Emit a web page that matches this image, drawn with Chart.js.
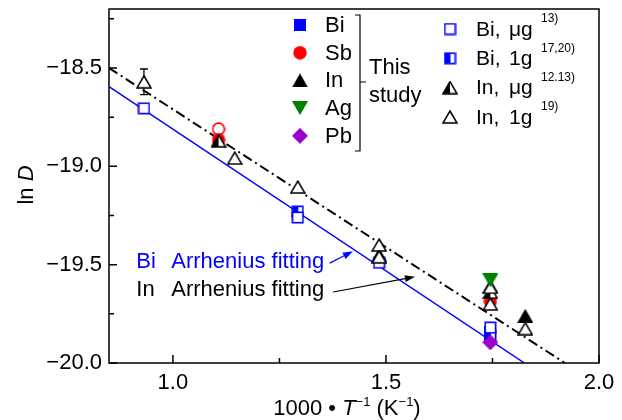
<!DOCTYPE html>
<html>
<head>
<meta charset="utf-8">
<script src="https://cdn.jsdelivr.net/npm/chart.js@4.4.1/dist/chart.umd.min.js"></script>
<style>
html, body { margin: 0; padding: 0; background: #fff; }
</style>
</head>
<body>
<canvas id="chart" width="622" height="420"></canvas>
<script>
// Axis ticks
const xTicks = [1.0, 1.5, 2.0];
const xMinorTicks = [1.25, 1.75];
const yTicks = [-20.0, -19.5, -19.0, -18.5];
const yMinorTicks = [-19.75, -19.25, -18.75, -18.25];

// This study
const biX = [1.745, 1.745];
const biY = [-19.84, -19.87];
const sbX = [1.107, 1.107, 1.745];
const sbY = [-18.81, -18.865, -19.685];
const sbFill = ['#ffffff', '#ff0000', '#ff0000'];
const inX = [1.484, 1.745, 1.827];
const inY = [-19.45, -19.61, -19.76];
const agX = [1.745];
const agY = [-19.58];
const pbX = [1.745];
const pbY = [-19.895];

// Literature values
const biUgX = [0.932, 1.293, 1.484, 1.745];
const biUgY = [-18.705, -19.26, -19.49, -19.82];
const bi1gX = [1.293, 1.745];
const bi1gY = [-19.23, -19.86];
const inUgX = [1.107, 1.745];
const inUgY = [-18.87, -19.64];
const in1gX = [0.932, 1.145, 1.293, 1.484, 1.484, 1.745, 1.745, 1.827];
const in1gY = [-18.57, -18.958, -19.105, -19.40, -19.46, -19.615, -19.70, -19.825];
const in1gErr = [0.065, 0, 0, 0, 0, 0, 0, 0];

// Arrhenius fits (end points)
const biFitX = [0.85, 1.825];
const biFitY = [-18.595, -20.0];
const inFitX = [0.85, 1.92];
const inFitY = [-18.5, -20.0];

// Fit labels and their arrows
const fitNames = ['Bi', 'In'];
const fitText = 'Arrhenius fitting';
const fitLabelX = [0.914, 0.914];
const fitLabelY = [-19.488, -19.631];
const arrowFromX = [1.368, 1.376];
const arrowFromY = [-19.492, -19.639];
const arrowToX = [1.4225, 1.568];
const arrowToY = [-19.432, -19.562];

const FONT = '"Liberation Sans", Arial, sans-serif';
const BLUE = '#0000ff', RED = '#ff0000', GREEN = '#008000', PURPLE = '#9900cc';

function mk(w, h, draw) {
    const c = document.createElement('canvas');
    c.width = w; c.height = h;
    draw(c.getContext('2d'), w, h);
    return c;
}
function poly(g, pts) {
    g.beginPath();
    g.moveTo(pts[0][0], pts[0][1]);
    for (let i = 1; i < pts.length; i++) g.lineTo(pts[i][0], pts[i][1]);
    g.closePath();
}

const TRI = [[8, 1], [15, 13], [1, 13]];

// marker images
const M = {
    sqFill: mk(12, 12, g => { g.fillStyle = BLUE; g.fillRect(0, 0, 12, 12); }),
    sqOpen: mk(13, 13, g => {
        g.fillStyle = '#fff'; g.fillRect(1, 1, 11, 11);
        g.strokeStyle = BLUE; g.lineWidth = 1.6; g.strokeRect(1.3, 1.3, 10.4, 10.4);
    }),
    sqHalf: mk(13, 13, g => {
        g.fillStyle = '#fff'; g.fillRect(1, 1, 11, 11);
        g.fillStyle = BLUE; g.fillRect(1, 1, 6, 11);
        g.strokeStyle = BLUE; g.lineWidth = 1.6; g.strokeRect(1.3, 1.3, 10.4, 10.4);
    }),
    circle: mk(14, 14, g => {
        g.fillStyle = RED; g.beginPath(); g.arc(7, 7, 6.7, 0, Math.PI * 2); g.fill();
    }),
    triFill: mk(16, 14, g => {
        g.fillStyle = '#000'; poly(g, [[8, 0], [16, 14], [0, 14]]); g.fill();
    }),
    triOpen: mk(16, 14, g => {
        g.fillStyle = '#fff'; g.strokeStyle = '#000'; g.lineWidth = 1.5;
        poly(g, TRI); g.fill(); g.stroke();
    }),
    triHalf: mk(16, 14, g => {
        g.fillStyle = '#fff'; poly(g, TRI); g.fill();
        g.fillStyle = '#000'; poly(g, [[8, 1], [8, 13], [1, 13]]); g.fill();
        g.strokeStyle = '#000'; g.lineWidth = 1.5; poly(g, TRI); g.stroke();
    }),
    triDown: mk(16, 14, g => {
        g.fillStyle = GREEN; poly(g, [[0, 0], [16, 0], [8, 14]]); g.fill();
    }),
    diamond: mk(16, 16, g => {
        g.fillStyle = PURPLE; poly(g, [[8, 0], [16, 8], [8, 16], [0, 8]]); g.fill();
    })
};
// Sb points can be open or filled
const sbMarkers = sbFill.map(c => c === '#ffffff' ? mk(14, 14, g => {
    g.fillStyle = '#fff'; g.strokeStyle = RED; g.lineWidth = 1.6;
    g.beginPath(); g.arc(7, 7, 5.9, 0, Math.PI * 2); g.fill(); g.stroke();
}) : M.circle);

const pts = (xs, ys) => xs.map((x, i) => ({ x: x, y: ys[i] }));
function marks(label, xs, ys, style) {
    return { label: label, data: pts(xs, ys), pointStyle: style, pointRadius: 6, showLine: false };
}

// first dataset is drawn on top
const datasets = [
    marks('Pb', pbX, pbY, M.diamond),
    marks('Ag', agX, agY, M.triDown),
    marks('In, 1g', in1gX, in1gY, M.triOpen),
    marks('In, μg', inUgX, inUgY, M.triHalf),
    marks('In', inX, inY, M.triFill),
    marks('Sb', sbX, sbY, sbMarkers),
    marks('Bi, μg', biUgX, biUgY, M.sqOpen),
    marks('Bi, 1g', bi1gX, bi1gY, M.sqHalf),
    marks('Bi', biX, biY, M.sqFill),
    { label: 'In fit', data: pts(inFitX, inFitY), showLine: true, borderColor: '#000', borderWidth: 2,
      borderDash: [10, 4, 2, 4], pointRadius: 0 },
    { label: 'Bi fit', data: pts(biFitX, biFitY), showLine: true, borderColor: BLUE, borderWidth: 1.5,
      pointRadius: 0 }
];

const legendLeft = [
    ['Bi', M.sqFill], ['Sb', M.circle], ['In', M.triFill], ['Ag', M.triDown], ['Pb', M.diamond]
];
const legendRight = [
    ['Bi,', 'μg', M.sqOpen, '13)'], ['Bi,', '1g', M.sqHalf, '17,20)'],
    ['In,', 'μg', M.triHalf, '12.13)'], ['In,', '1g', M.triOpen, '19)']
];

// draws text pieces in a row: [text, font, dy]
function runs(ctx, parts, x, y, align) {
    let w = 0;
    parts.forEach(p => { ctx.font = p[1]; w += ctx.measureText(p[0]).width; });
    let cx = align === 'center' ? x - w / 2 : x;
    ctx.textAlign = 'left';
    parts.forEach(p => {
        ctx.font = p[1];
        ctx.fillText(p[0], cx, y + (p[2] || 0));
        cx += ctx.measureText(p[0]).width;
    });
}

function arrow(ctx, x1, y1, x2, y2, color) {
    const ang = Math.atan2(y2 - y1, x2 - x1), L = 10, W = 3.5;
    ctx.strokeStyle = color; ctx.fillStyle = color; ctx.lineWidth = 1.2;
    ctx.beginPath(); ctx.moveTo(x1, y1);
    ctx.lineTo(x2 - L * Math.cos(ang), y2 - L * Math.sin(ang)); ctx.stroke();
    ctx.beginPath();
    ctx.moveTo(x2, y2);
    ctx.lineTo(x2 - L * Math.cos(ang) + W * Math.sin(ang), y2 - L * Math.sin(ang) - W * Math.cos(ang));
    ctx.lineTo(x2 - L * Math.cos(ang) - W * Math.sin(ang), y2 - L * Math.sin(ang) + W * Math.cos(ang));
    ctx.closePath(); ctx.fill();
}

const decor = {
    id: 'decor',
    beforeDatasetsDraw(chart) {
        const { ctx, scales: { x, y } } = chart;
        ctx.save();
        ctx.strokeStyle = '#000'; ctx.lineWidth = 1.3;
        in1gX.forEach((v, i) => {
            if (!in1gErr[i]) return;
            const px = x.getPixelForValue(v);
            const t = y.getPixelForValue(in1gY[i] + in1gErr[i]);
            const b = y.getPixelForValue(in1gY[i] - in1gErr[i]);
            ctx.beginPath();
            ctx.moveTo(px, t); ctx.lineTo(px, b);
            ctx.moveTo(px - 4, t); ctx.lineTo(px + 4, t);
            ctx.moveTo(px - 4, b); ctx.lineTo(px + 4, b);
            ctx.stroke();
        });
        ctx.restore();
    },
    afterDraw(chart) {
        const { ctx, chartArea: a, scales: { x, y } } = chart;
        ctx.save();
        // frame and inward ticks
        ctx.strokeStyle = '#000'; ctx.lineWidth = 1.5;
        ctx.strokeRect(a.left, a.top, a.right - a.left, a.bottom - a.top);
        ctx.beginPath();
        xTicks.forEach(v => { const p = x.getPixelForValue(v); ctx.moveTo(p, a.bottom); ctx.lineTo(p, a.bottom - 8); });
        xMinorTicks.forEach(v => { const p = x.getPixelForValue(v); ctx.moveTo(p, a.bottom); ctx.lineTo(p, a.bottom - 5); });
        yTicks.forEach(v => { const p = y.getPixelForValue(v); ctx.moveTo(a.left, p); ctx.lineTo(a.left + 8, p); });
        yMinorTicks.forEach(v => { const p = y.getPixelForValue(v); ctx.moveTo(a.left, p); ctx.lineTo(a.left + 5, p); });
        ctx.stroke();

        // fit labels and arrows
        ctx.textBaseline = 'middle';
        fitNames.forEach((n, i) => {
            const color = i === 0 ? BLUE : '#000';
            const px = x.getPixelForValue(fitLabelX[i]), py = y.getPixelForValue(fitLabelY[i]);
            ctx.fillStyle = color;
            ctx.font = '22px ' + FONT;
            ctx.textAlign = 'left';
            ctx.fillText(n, px, py);
            ctx.fillText(fitText, px + 35, py);
            arrow(ctx, x.getPixelForValue(arrowFromX[i]), y.getPixelForValue(arrowFromY[i]),
                x.getPixelForValue(arrowToX[i]), y.getPixelForValue(arrowToY[i]), color);
        });

        // legend
        ctx.fillStyle = '#000';
        ctx.font = '22px ' + FONT;
        legendLeft.forEach((e, i) => {
            const cy = 25 + i * 27.7;
            ctx.drawImage(e[1], 300 - e[1].width / 2, cy - e[1].height / 2);
            ctx.fillStyle = '#000'; ctx.textAlign = 'left';
            ctx.fillText(e[0], 325, cy + 1);
        });
        ctx.lineWidth = 1.2;
        ctx.beginPath();
        ctx.moveTo(355, 15); ctx.lineTo(360, 15); ctx.lineTo(360, 151); ctx.lineTo(355, 151);
        ctx.moveTo(360, 82); ctx.lineTo(366, 82);
        ctx.stroke();
        ctx.fillText('This', 369, 68);
        ctx.fillText('study', 369, 96);
        legendRight.forEach((e, i) => {
            const cy = 29 + i * 29.3;
            ctx.drawImage(e[2], 450 - e[2].width / 2, cy - e[2].height / 2);
            ctx.font = '21px ' + FONT;
            ctx.fillText(e[0], 476, cy + 1);
            ctx.fillText(e[1], 509, cy + 1);
            ctx.font = '12px ' + FONT;
            ctx.fillText(e[3], 541, cy - 10);
        });

        // axis titles
        ctx.textBaseline = 'alphabetic';
        const it = 'italic 22px ' + FONT, nm = '22px ' + FONT, sm = '13px ' + FONT;
        runs(ctx, [['1000', nm], [' • ', nm], ['T', it], ['−1', sm, -9], [' (K', nm], ['−1', sm, -9], [')', nm]],
            347, 415, 'center');
        ctx.translate(33, 185);
        ctx.rotate(-Math.PI / 2);
        runs(ctx, [['ln ', nm], ['D', it]], 0, 0, 'center');
        ctx.restore();
    }
};

const fmt = v => (v < 0 ? '−' : '') + Math.abs(v).toFixed(1);

new Chart(document.getElementById('chart'), {
    type: 'scatter',
    data: { datasets: datasets },
    options: {
        responsive: false,
        animation: false,
        layout: { padding: { top: 9, right: 23, left: 0, bottom: 0 } },
        plugins: { legend: { display: false }, tooltip: { enabled: false } },
        scales: {
            x: {
                type: 'linear', min: 0.85, max: 2.0,
                afterBuildTicks: s => { s.ticks = xTicks.map(v => ({ value: v })); },
                afterFit: s => { s.height = 57; s.paddingLeft = 0; s.paddingRight = 0; },
                grid: { display: false, drawTicks: false },
                border: { display: false },
                ticks: { color: '#000', padding: 7, font: { family: FONT, size: 22 }, callback: v => v.toFixed(1) }
            },
            y: {
                type: 'linear', min: -20.0, max: -18.2,
                afterBuildTicks: s => { s.ticks = yTicks.map(v => ({ value: v })); },
                afterFit: s => { s.width = 109; s.paddingTop = 0; s.paddingBottom = 0; },
                grid: { display: false, drawTicks: false },
                border: { display: false },
                ticks: { color: '#000', padding: 7, font: { family: FONT, size: 22 }, callback: fmt }
            }
        }
    },
    plugins: [decor]
});
</script>
</body>
</html>
